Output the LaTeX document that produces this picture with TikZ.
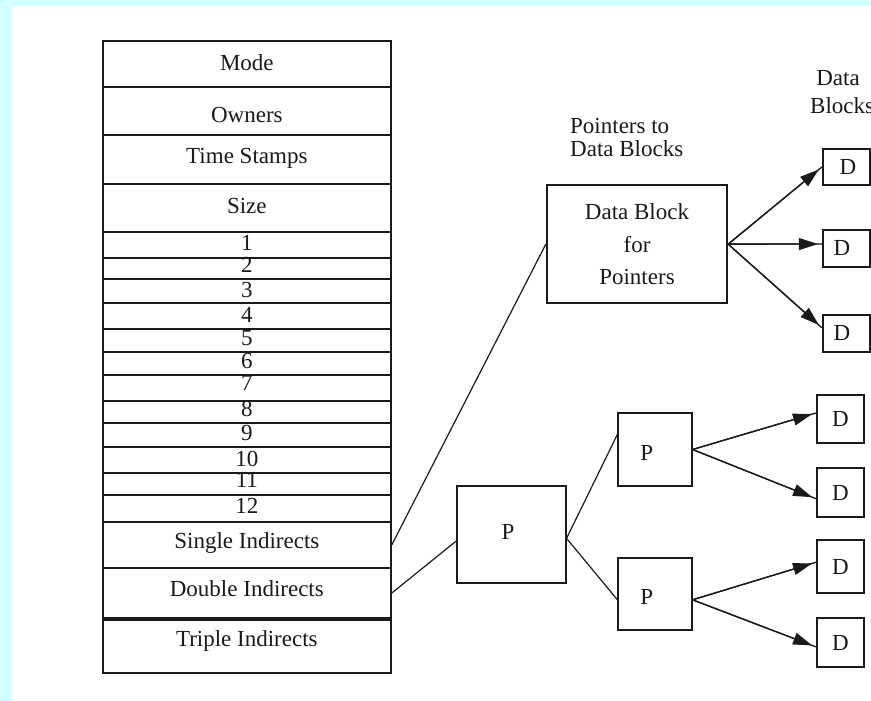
\documentclass[tikz,border=0pt]{standalone}
\usepackage{fontspec}
\setmainfont{Liberation Serif}
\usetikzlibrary{arrows.meta,calc}
\definecolor{bgcyan}{HTML}{D2FFFF}
\definecolor{ink}{HTML}{1A1A1A}
\begin{document}
\begin{tikzpicture}[x=1pt,y=-1pt,
  box/.style={draw=ink, line width=1.7pt, inner sep=0pt},
  txt/.style={font=\fontsize{23}{23}\selectfont, inner sep=0pt, text=ink},
  link/.style={draw=ink, line width=1.2pt},
  arr/.style={draw=ink, line width=1.3pt,
    postaction={draw=ink, -{Triangle[length=19pt,width=12pt]}, shorten >=4pt}},
]
\useasboundingbox (0,0) rectangle (871,701);
\fill[bgcyan] (0,0) rectangle (871,701);
\fill[white] (12,6) rectangle (871,701);

% inode table rows
\foreach \n/\t/\b in {mode/41/86.7, owners/86.7/135, time/135/184, size/184/231.7,
  r1/231.7/257.7, r2/257.7/279.3, r3/279.3/302.7, r4/302.7/329, r5/329/351.7,
  r6/351.7/375, r7/375/401, r8/401/423.3, r9/423.3/447.3, r10/447.3/473.3,
  r11/473.3/495.3, r12/495.3/521.7, single/521.7/567.7, double/567.7/618.3,
  triple/618.3/673.3}
  \node[box, minimum width=288.3pt, minimum height={(\b-\t)*1pt}] (\n) at (246.85,{(\t+\b)/2}) {};
\draw[ink, line width=3.4pt] (double.south west) -- (double.south east);

\node[txt, anchor=base] (tmode) at (246.85,70.7) {Mode};
\node[txt, anchor=base] (towners) at (246.85,122.7) {Owners};
\node[txt, anchor=base] (ttime) at (246.85,163.3) {Time Stamps};
\node[txt, anchor=base] (tsize) at (246.85,213.3) {Size};
\foreach \d/\yb in {1/250, 2/272, 3/297, 4/322, 5/345, 6/368, 7/390, 8/416,
  9/440, 10/466, 11/487, 12/513}
  \node[txt, anchor=base] (n\d) at (246.85,\yb) {\d};
\node[txt, anchor=base] (tsingle) at (246.85,548.3) {Single Indirects};
\node[txt, anchor=base] (tdouble) at (246.85,596.7) {Double Indirects};
\node[txt, anchor=base] (ttriple) at (246.85,646.7) {Triple Indirects};

% single indirect
\node[txt, anchor=base west] (lp1) at (570,133) {Pointers to};
\node[txt, anchor=base west] (lp2) at (570,156.7) {Data Blocks};
\node[box, minimum width=180.6pt, minimum height=118.3pt, align=center,
  font=\fontsize{23}{32.5}\selectfont, text=ink] (dbp) at (637,244.15) {Data Block\\for\\Pointers};

\node[txt, anchor=base] (ld1) at (838,85) {Data};
\node[txt, anchor=base west] (ld2) at (810,113.3) {Blocks};

\node[box, minimum width=47.3pt, minimum height=36pt] (d1) at (846.35,167) {};
\node[box, minimum width=47.3pt, minimum height=36.7pt] (d2) at (846.35,248.35) {};
\node[box, minimum width=47.3pt, minimum height=36.7pt] (d3) at (846.35,333.35) {};
\node[txt] (td1) at (848,167) {D};
\node[txt] (td2) at (842,248.35) {D};
\node[txt] (td3) at (842,333.35) {D};

% double indirect
\node[box, minimum width=109pt, minimum height=97.6pt] (pbig) at (511.2,534.5) {};
\node[box, minimum width=73.4pt, minimum height=72.4pt] (p1) at (655,449.5) {};
\node[box, minimum width=73.4pt, minimum height=72.3pt] (p2) at (655,593.85) {};
\node[txt] (tpbig) at (508,531.7) {P};
\node[txt] (tp1) at (646.7,453.3) {P};
\node[txt] (tp2) at (646.7,596.7) {P};

\node[box, minimum width=47.6pt, minimum height=48.3pt] (d4) at (840.5,419.15) {};
\node[box, minimum width=47.6pt, minimum height=48.4pt] (d5) at (840.5,492.5) {};
\node[box, minimum width=47.6pt, minimum height=53.3pt] (d6) at (840.5,566.65) {};
\node[box, minimum width=47.6pt, minimum height=48.4pt] (d7) at (840.5,642.5) {};
\foreach \k in {4,5,6,7} \node[txt] (td\k) at (d\k) {D};

% connectors
\draw[link] (single.east) -- (dbp.west);
\draw[link] (double.east) -- (pbig.187);
\draw[link] (pbig.356) -- (p1.158);
\draw[link] (pbig.356) -- (p2.189);

\draw[arr] (dbp.east) -- (d1.west);
\draw[arr] (dbp.east) -- (d2.170);
\draw[arr] (dbp.east) -- (d3.167);
\draw[arr] (p1.east) -- (d4.166);
\draw[arr] (p1.east) -- (d5.194);
\draw[arr] (p2.351) -- (d6.170);
\draw[arr] (p2.351) -- (d7.190);
\end{tikzpicture}
\end{document}
